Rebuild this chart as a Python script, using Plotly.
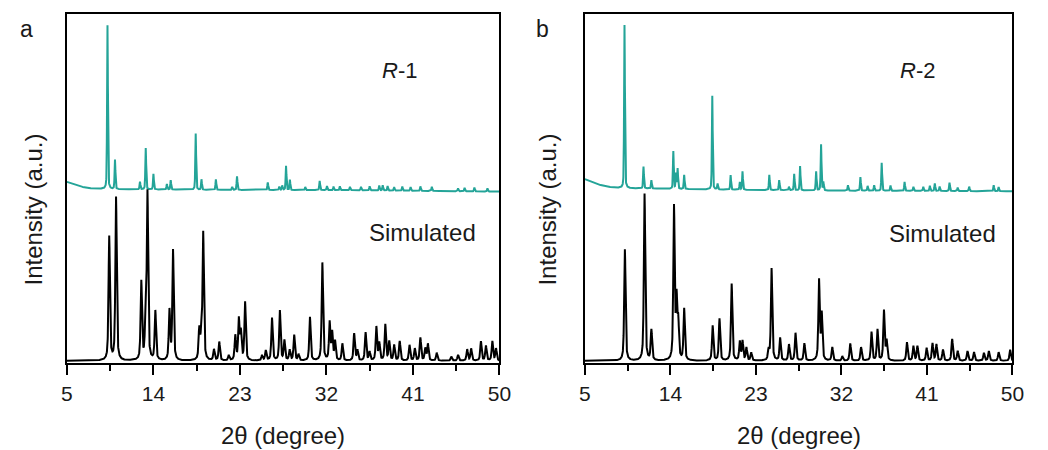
import numpy as np
import plotly.graph_objects as go

# ---------------- data ----------------
# Panel a : R-1 experimental (teal) — baseline points and peaks above baseline
a_base_x = [5.0, 6.0, 7.0, 8.0, 10.0, 20.0, 35.0, 50.0]
a_base_y = [51.6, 50.6, 49.9, 49.6, 49.5, 49.3, 49.2, 48.8]
a_exp_pos = [9.22, 10.0, 12.6, 13.2, 14.0, 15.4, 15.8, 18.4, 19.0, 20.5, 22.2, 22.7,
             25.9, 27.1, 27.4, 27.8, 28.2, 29.8, 31.3, 32.06, 32.74, 33.4, 34.45,
             35.6, 36.5, 37.5, 37.86, 38.37, 39.05, 39.9, 40.76, 41.78, 42.97,
             45.7, 46.38, 47.4, 48.76]
a_exp_int = [47.2, 8.5, 2.2, 11.9, 4.5, 1.6, 2.7, 16.2, 3.0, 3.0, 0.9, 3.9,
             2.2, 1.0, 1.3, 7.0, 3.0, 0.9, 2.7, 1.2, 1.0, 1.1, 1.0,
             1.0, 1.2, 1.4, 1.5, 1.3, 1.0, 1.2, 1.1, 1.3, 1.2,
             0.8, 1.0, 1.1, 0.9]

# Panel a : simulated (black)
a_sim_pos = [9.40, 10.11, 12.74, 13.18, 13.38, 14.2, 15.67, 16.04, 18.77, 18.97, 19.18,
             20.3, 20.85, 21.84, 22.52, 22.89, 23.1, 23.54, 25.3, 25.69, 26.34, 27.16,
             27.63, 28.18, 28.65, 29.1, 30.29, 31.58, 32.34, 32.6, 32.9, 33.66, 34.89,
             35.23, 36.08, 36.49, 37.2, 37.5, 38.13, 38.54, 39.05, 39.63, 40.65, 41.2,
             41.78, 42.29, 42.56, 43.48, 45.0, 45.7, 46.65, 47.06, 48.08, 48.6, 49.27,
             49.65]
a_sim_int = [35.7, 47.0, 22.6, 10.0, 48.1, 14.2, 14.2, 31.7, 8.7, 6.0, 36.7,
             3.2, 5.4, 1.5, 7.1, 11.7, 8.0, 16.8, 1.5, 2.9, 12.3, 14.4,
             5.8, 3.0, 7.4, 1.8, 12.6, 28.2, 10.9, 7.9, 5.5, 4.9, 7.8,
             3.0, 8.1, 2.5, 9.7, 5.0, 10.4, 5.5, 4.5, 5.6, 4.5, 3.5,
             6.6, 3.5, 4.8, 2.3, 1.2, 1.7, 3.3, 3.5, 5.6, 4.3, 5.6,
             3.5]

# Panel b : R-2 experimental (teal)
b_base_x = [5.0, 6.0, 7.0, 8.0, 9.0, 18.5, 30.0, 50.0]
b_base_y = [52.4, 51.2, 50.4, 50.0, 49.8, 49.4, 49.1, 48.9]
b_exp_pos = [9.17, 11.17, 12.0, 14.31, 14.59, 14.76, 15.45, 18.41, 18.97, 20.34, 21.31,
             21.59, 24.41, 25.45, 26.48, 27.03, 27.65, 29.34, 29.86, 30.1, 32.69, 34.0,
             34.76, 35.45, 36.24, 37.17, 38.65, 39.58, 40.62, 41.31, 41.83, 42.34,
             43.38, 44.24, 45.45, 48.03, 48.55]
b_exp_int = [47.0, 6.3, 2.4, 10.8, 4.4, 5.8, 4.1, 27.0, 1.7, 4.2, 2.2,
             5.3, 4.4, 2.9, 1.0, 4.7, 7.0, 5.5, 13.3, 2.4, 1.6, 3.9,
             1.4, 1.6, 8.1, 1.5, 2.6, 1.2, 1.2, 1.5, 2.2, 1.3,
             2.4, 1.0, 1.3, 1.7, 1.2]

# Panel b : simulated (black)
b_sim_pos = [9.21, 11.28, 12.0, 14.38, 14.65, 14.83, 15.45, 18.45, 19.17, 20.45, 21.31,
             21.59, 22.0, 22.51, 24.34, 24.65, 25.55, 26.48, 27.17, 28.1, 29.65, 29.93,
             31.04, 32.1, 32.93, 34.07, 35.17, 35.8, 36.48, 36.76, 38.9, 39.58, 40.0,
             40.97, 41.59, 42.0, 42.69, 43.66, 44.24, 45.27, 45.96, 47.0, 47.52, 48.55,
             49.76]
b_sim_int = [32.1, 48.1, 8.8, 44.0, 16.9, 10.4, 14.9, 10.1, 12.1, 22.2, 5.4,
             5.6, 3.7, 2.3, 2.8, 26.6, 6.6, 4.7, 8.0, 5.0, 23.1, 13.3,
             3.9, 1.3, 5.0, 3.9, 8.3, 9.0, 14.4, 5.6, 5.3, 4.2, 4.2,
             3.7, 5.0, 4.7, 3.2, 6.3, 2.8, 2.8, 2.5, 2.3, 2.8, 2.5,
             3.2]

x_ticks = [5, 14, 23, 32, 41, 50]
x_minor = [9.5, 18.5, 27.5, 36.5, 45.5]

TEAL = "#24a498"
FONT = "Arial, Liberation Sans, sans-serif"


def pattern(x, pos, h, fwhm, eta):
    y = np.zeros_like(x)
    for p, a in zip(pos, h):
        d = (x - p) / (fwhm / 2.0)
        y += a * (eta / (1.0 + d * d) + (1.0 - eta) * np.exp(-np.log(2.0) * d * d))
    return y


x = np.arange(5.0, 50.0001, 0.01)
a_exp = np.interp(x, a_base_x, a_base_y) + pattern(x, a_exp_pos, a_exp_int, 0.10, 0.4)
b_exp = np.interp(x, b_base_x, b_base_y) + pattern(x, b_exp_pos, b_exp_int, 0.10, 0.4)
a_sim = pattern(x, a_sim_pos, a_sim_int, 0.17, 0.6)
b_sim = pattern(x, b_sim_pos, b_sim_int, 0.17, 0.6)

fig = go.Figure()
fig.add_trace(go.Scatter(x=x, y=a_exp, mode="lines", line=dict(color=TEAL, width=2),
                         xaxis="x", yaxis="y", showlegend=False))
fig.add_trace(go.Scatter(x=x, y=a_sim, mode="lines", line=dict(color="black", width=2),
                         xaxis="x", yaxis="y", showlegend=False))
fig.add_trace(go.Scatter(x=x, y=b_exp, mode="lines", line=dict(color=TEAL, width=2),
                         xaxis="x2", yaxis="y2", showlegend=False))
fig.add_trace(go.Scatter(x=x, y=b_sim, mode="lines", line=dict(color="black", width=2),
                         xaxis="x2", yaxis="y2", showlegend=False))

W, H = 1048, 450
ydom = [1 - 363 / H, 1 - 14 / H]
xdom_a = [62 / W, 502 / W]
xdom_b = [589 / W, 1024 / W]


def xaxis(dom, anchor):
    return dict(domain=dom, anchor=anchor, range=[5, 50], tickvals=x_ticks,
                ticks="outside", ticklen=10, tickwidth=1.6, tickcolor="black",
                minor=dict(tickvals=x_minor, ticks="outside", ticklen=6, tickwidth=1.6,
                           tickcolor="black"),
                showline=True, mirror=True, linecolor="black", linewidth=1.8,
                showgrid=False, zeroline=False, ticklabelstandoff=1,
                tickfont=dict(family=FONT, size=21, color="#1a1a1a"))


def yaxis(anchor):
    return dict(domain=ydom, anchor=anchor, range=[-0.6, 100], showticklabels=False,
                ticks="", showline=True, mirror=True, linecolor="black", linewidth=1.8,
                showgrid=False, zeroline=False)


fig.update_layout(
    width=W, height=H, margin=dict(l=0, r=0, t=0, b=0),
    paper_bgcolor="white", plot_bgcolor="white",
    xaxis=xaxis(xdom_a, "y"), yaxis=yaxis("x"),
    xaxis2=xaxis(xdom_b, "y2"), yaxis2=yaxis("x2"),
)

txt = dict(family=FONT, color="#1a1a1a")


def note(text, px, py, size, angle=0, xref="paper"):
    return dict(text=text, x=px if xref != "paper" else px / W, y=1 - py / H,
                xref=xref, yref="paper", xanchor="center", yanchor="middle",
                textangle=angle, showarrow=False, font=dict(size=size, **txt))


ann = [
    note("a", 21, 29, 23),
    note("b", 546, 29, 23),
    note("Intensity (a.u.)", 27, 210, 24, angle=-90),
    note("Intensity (a.u.)", 550, 210, 24, angle=-90),
    note("2θ (degree)", 0.5, 435, 24, xref="x domain"),
    note("2θ (degree)", 0.5, 435, 24, xref="x2 domain"),
    note("<i>R</i>-1", 400, 70, 22),
    note("<i>R</i>-2", 927, 70, 22),
    note("Simulated", 424, 232, 24),
    note("Simulated", 953, 233, 24),
]
fig.update_layout(annotations=ann)

fig.write_html("out.html")
